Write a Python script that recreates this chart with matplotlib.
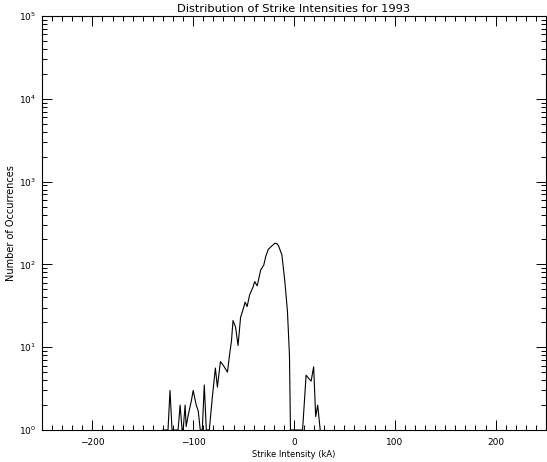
import numpy as np
import matplotlib
matplotlib.use("Agg")
import matplotlib.pyplot as plt
from matplotlib.ticker import MultipleLocator, LogLocator, FixedLocator

# values (counts at bottom clipped to 1)
strike_ka = [-130, -125, -123, -121, -115, -113, -111, -110, -108, -107,
             -105, -102, -100, -97, -95, -93, -91, -89, -87, -84,
             -81, -78, -76, -73, -70, -66, -64, -62, -60.5, -58,
             -55.5, -53, -50, -48.5, -46.5, -44, -41, -39, -36.5, -33,
             -30, -28, -25.5, -22, -19, -17, -15.5, -12, -9, -6.5,
             -4.5, -3.5, 8.5, 12, 14.5, 17, 19.5, 21.5, 23.5, 26]
counts = [1, 1, 3, 1, 1, 2, 1, 1, 2, 1.1,
          1.5, 2.2, 3, 2, 1.7, 1, 1, 3.5, 1, 1,
          2.5, 5.6, 3.3, 6.7, 6, 5, 8, 12, 21, 17.5,
          10.5, 23, 30, 35, 31, 43, 52, 62, 55, 86,
          98, 125, 152, 167, 180, 178, 170, 130, 61, 27,
          8, 1, 1, 4.6, 4.2, 3.9, 5.8, 1.45, 2.0, 1]

x_labels = [-200, -100, 0, 100, 200]

plt.rcParams.update({
    "font.family": "DejaVu Sans",
    "axes.linewidth": 0.8,
    "xtick.direction": "in",
    "ytick.direction": "in",
})

fig = plt.figure(figsize=(5.47, 4.62), dpi=100)
ax = fig.add_axes([42 / 547, 32 / 462, 504 / 547, 414 / 462])

ax.plot(strike_ka, counts, color="black", linewidth=0.8)

ax.set_yscale("log")
ax.set_xlim(-250, 250)
ax.set_ylim(1, 1e5)

ax.xaxis.set_major_locator(FixedLocator(x_labels))
ax.xaxis.set_minor_locator(MultipleLocator(10))
ax.yaxis.set_major_locator(LogLocator(base=10, numticks=10))
ax.yaxis.set_minor_locator(LogLocator(base=10, subs=np.arange(2, 10), numticks=10))

ax.tick_params(which="both", top=True, right=True, labelsize=6.5, width=0.7, pad=4)
ax.tick_params(which="major", length=7)
ax.tick_params(which="minor", length=3.5)
ax.tick_params(axis="x", which="major", pad=6)

ax.set_title("Distribution of Strike Intensities for 1993", fontsize=8.2, pad=3)
ax.set_xlabel("Strike Intensity (kA)", fontsize=6, labelpad=2)
ax.set_ylabel("Number of Occurrences", fontsize=7, labelpad=2)

fig.savefig("out.png", dpi=100)
